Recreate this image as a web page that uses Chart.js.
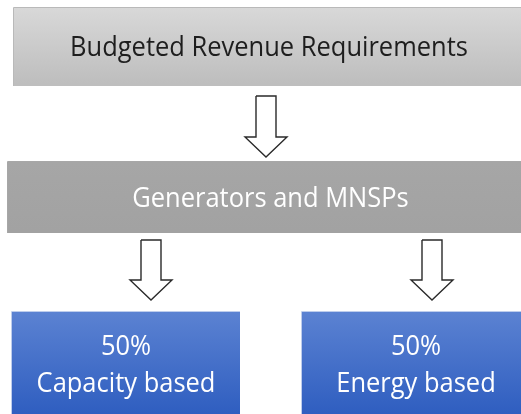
<!DOCTYPE html>
<html>
<head>
<meta charset="utf-8">
<script src="https://cdn.jsdelivr.net/npm/chart.js@4"></script>
<style>
html,body{margin:0;padding:0;background:#fff;overflow:hidden;}
#wrap{width:521px;height:414px;position:relative;}
canvas{display:block;}
</style>
</head>
<body>
<div id="wrap"><canvas id="c"></canvas></div>
<script>
// Boxes of the flow diagram (diagram units, y grows downward)
const boxLabels = [["Budgeted Revenue Requirements"], ["Generators and MNSPs"], ["50%", "Capacity based"], ["50%", "Energy based"]];
const boxLeft   = [14, 8, 12, 302];
const boxRight  = [524, 533, 240, 530];
const boxTop    = [8, 162, 312, 312];
const boxBottom = [83, 230, 414, 414];
// Arrows between boxes
const arrowCenter   = [266, 151, 432];
const arrowTop      = [96, 240, 240];
const arrowHeadFrom = [137, 280, 280];
const arrowTip      = [157, 300, 300];

const boxStyles = [
  {top: '#d8d8d8', bottom: '#bebebe', border: '#a3a3a3', text: '#1e1e1e'},
  {top: '#a6a6a6', bottom: '#a2a2a2', border: '#8a8a8a', text: '#ffffff'},
  {top: '#5b82d2', bottom: '#2f5ec0', border: '#a9bde6', text: '#ffffff'},
  {top: '#5b82d2', bottom: '#2f5ec0', border: '#a9bde6', text: '#ffffff'}
];

const datasets = [];
boxLabels.forEach((lab, i) => {
  const st = boxStyles[i];
  datasets.push({
    data: [{x: boxLeft[i], y: boxTop[i]}, {x: boxRight[i], y: boxTop[i]}],
    fill: {value: boxBottom[i] + 3},
    borderWidth: 0,
    pointRadius: 0,
    clip: false,
    backgroundColor: (ctx) => {
      const ch = ctx.chart;
      if (!ch.chartArea) return st.top;
      const y = ch.scales.y;
      const g = ch.ctx.createLinearGradient(0, y.getPixelForValue(boxTop[i]), 0, y.getPixelForValue(boxBottom[i]));
      g.addColorStop(0, st.top);
      g.addColorStop(1, st.bottom);
      return g;
    }
  });
  datasets.push({
    data: [
      {x: boxLeft[i], y: boxBottom[i] + 3}, {x: boxLeft[i], y: boxTop[i]},
      {x: boxRight[i], y: boxTop[i]}, {x: boxRight[i], y: boxBottom[i]},
      {x: boxLeft[i], y: boxBottom[i]}
    ].filter(p => boxBottom[i] < 400 || p.y !== boxBottom[i]),
    fill: false,
    clip: false,
    borderColor: st.border,
    borderWidth: 1.5,
    pointRadius: 0
  });
});
arrowCenter.forEach((cx, i) => {
  const sw = 10, hw = 21;
  datasets.push({
    data: [
      {x: cx - sw, y: arrowTop[i]}, {x: cx + sw, y: arrowTop[i]},
      {x: cx + sw, y: arrowHeadFrom[i]}, {x: cx + hw, y: arrowHeadFrom[i]},
      {x: cx, y: arrowTip[i]}, {x: cx - hw, y: arrowHeadFrom[i]},
      {x: cx - sw, y: arrowHeadFrom[i]}, {x: cx - sw, y: arrowTop[i]}
    ],
    fill: false,
    borderColor: '#2a2a2a',
    borderWidth: 1.4,
    pointRadius: 0,
    borderJoinStyle: 'miter'
  });
});

const labelPlugin = {
  id: 'boxLabels',
  afterDatasetsDraw(chart) {
    const c = chart.ctx, xs = chart.scales.x, ys = chart.scales.y;
    c.save();
    c.textAlign = 'center';
    c.textBaseline = 'alphabetic';
    boxLabels.forEach((lines, i) => {
      const cx = xs.getPixelForValue((boxLeft[i] + boxRight[i]) / 2);
      const cy = ys.getPixelForValue((boxTop[i] + boxBottom[i]) / 2);
      c.fillStyle = boxStyles[i].text;
      c.font = '28px "Open Sans"';
      const lh = 37;
      lines.forEach((t, k) => {
        c.save();
        c.translate(cx, cy + 10.5 + (k - (lines.length - 1) / 2) * lh);
        c.scale(0.91, 1);
        c.fillText(t, 0, 0);
        c.restore();
      });
    });
    c.restore();
  }
};

new Chart(document.getElementById('c'), {
  type: 'line',
  data: {datasets},
  options: {
    responsive: true,
    maintainAspectRatio: false,
    animation: false,
    layout: {padding: 0},
    elements: {line: {tension: 0}},
    plugins: {legend: {display: false}, tooltip: {enabled: false}},
    scales: {
      x: {type: 'linear', min: 0, max: 521, display: false},
      y: {type: 'linear', min: 0, max: 414, reverse: true, display: false}
    }
  },
  plugins: [labelPlugin]
});
</script>
</body>
</html>
